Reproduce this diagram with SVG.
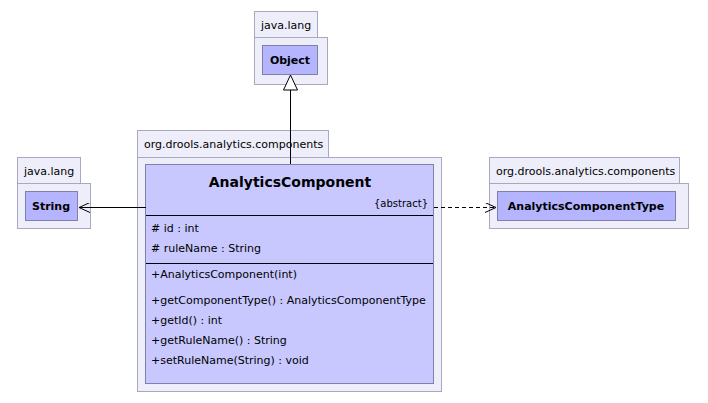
<svg xmlns="http://www.w3.org/2000/svg" width="708" height="403" viewBox="0 0 708 403">
<style>
text{font-family:"DejaVu Sans","Liberation Sans",sans-serif;fill:#000}
.pkg{fill:#EEEEFA;stroke:#A8A8C0;stroke-width:1}
.cls{fill:#B4B4FF;stroke:#8080A8;stroke-width:1}
.main{fill:#C8C8FF;stroke:#8080A8;stroke-width:1}
.pn{font-size:11px}
.cn{font-size:11px;font-weight:bold}
.mem{font-size:11px}
.ln{stroke:#000;stroke-width:1;fill:none}
</style>
<defs>
<marker id="open" markerWidth="12" markerHeight="10" refX="11" refY="5" orient="auto" markerUnits="userSpaceOnUse">
<path d="M0,0 L11,5 L0,10" fill="none" stroke="#000" stroke-width="1"/>
</marker>
</defs>
<g id="pkg-object">
<rect class="pkg" x="254.5" y="11.5" width="63" height="27"/>
<rect class="pkg" x="254.5" y="37.5" width="73" height="47"/>
<text class="pn" x="261" y="29">java.lang</text>
<g id="Object">
<rect class="cls" x="262.5" y="45.5" width="55" height="29"/>
<text class="cn" x="290" y="64" text-anchor="middle">Object</text>
</g>
</g>
<g id="pkg-string">
<rect class="pkg" x="17.5" y="157.5" width="63" height="26"/>
<rect class="pkg" x="17.5" y="183.5" width="73" height="45"/>
<text class="pn" x="24" y="175">java.lang</text>
<g id="String">
<rect class="cls" x="25.5" y="191.5" width="52" height="29"/>
<text class="cn" x="51" y="210" text-anchor="middle">String</text>
</g>
</g>
<g id="pkg-type">
<rect class="pkg" x="489.5" y="157.5" width="190" height="26"/>
<rect class="pkg" x="489.5" y="183.5" width="199" height="45"/>
<text class="pn" x="496" y="175">org.drools.analytics.components</text>
<g id="AnalyticsComponentType">
<rect class="cls" x="497.5" y="191.5" width="178" height="29"/>
<text class="cn" x="586" y="210" text-anchor="middle">AnalyticsComponentType</text>
</g>
</g>
<g id="pkg-main">
<rect class="pkg" x="137.5" y="130.5" width="191" height="27"/>
<rect class="pkg" x="137.5" y="157.5" width="304" height="234"/>
<text class="pn" x="144" y="148">org.drools.analytics.components</text>
<g id="AnalyticsComponent">
<rect class="main" x="145.5" y="164.5" width="288" height="219"/>
<text x="290" y="187" text-anchor="middle" style="font-size:14px;font-weight:bold">AnalyticsComponent</text>
<text class="mem" x="428" y="207" text-anchor="end" style="font-size:10px">{abstract}</text>
<line class="ln" x1="146" y1="215.5" x2="433" y2="215.5"/>
<text class="mem" x="151" y="232"># id : int</text>
<text class="mem" x="151" y="252"># ruleName : String</text>
<line class="ln" x1="146" y1="263.5" x2="433" y2="263.5"/>
<text class="mem" x="151" y="278">+AnalyticsComponent(int)</text>
<text class="mem" x="151" y="304">+getComponentType() : AnalyticsComponentType</text>
<text class="mem" x="151" y="324">+getId() : int</text>
<text class="mem" x="151" y="344">+getRuleName() : String</text>
<text class="mem" x="151" y="364">+setRuleName(String) : void</text>
</g>
</g>
<g id="connectors">
<line class="ln" x1="290.5" y1="164" x2="290.5" y2="90"/>
<path d="M283.5,90 L290.5,75 L297.5,90 Z" fill="#fff" stroke="#000" stroke-width="1"/>
<line class="ln" x1="146" y1="207.5" x2="79" y2="207.5" marker-end="url(#open)"/>
<line class="ln" x1="434" y1="207.5" x2="496" y2="207.5" stroke-dasharray="4,3" marker-end="url(#open)"/>
</g>
</svg>
